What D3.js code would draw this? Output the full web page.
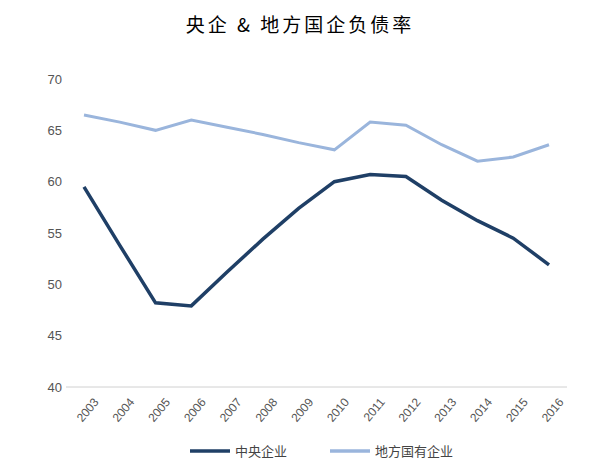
<!DOCTYPE html><html><head><meta charset="utf-8"><script src="https://d3js.org/d3.v7.min.js"></script>
<style>body{margin:0;background:#fff}</style></head><body><svg id="c" width="600" height="473"></svg><script>
const years=["2003","2004","2005","2006","2007","2008","2009","2010","2011","2012","2013","2014","2015","2016"];
const central=[59.5,53.8,48.2,47.9,51.2,54.4,57.4,60.0,60.7,60.5,58.2,56.2,54.5,51.9];
const local=[66.5,65.8,65.0,66.0,65.3,64.6,63.8,63.1,65.8,65.5,63.6,62.0,62.4,63.6];
const yTicks=[40,45,50,55,60,65,70];
const names=["中央企业","地方国有企业"];
const colors=["#1f3f66","#9ab5dc"];
const svg=d3.select("#c");
const x=d3.scalePoint().domain(years).range([84,549]);
const y=d3.scaleLinear().domain([40,70]).range([387,79]);
svg.append("text").attr("x",300).attr("y",32).attr("text-anchor","middle").attr("font-family","Noto Sans CJK SC").attr("font-size",19).attr("letter-spacing","3").text("央企 & 地方国企负债率");
const ya=svg.append("g").attr("transform","translate(66,0)").call(d3.axisLeft(y).tickValues(yTicks).tickSize(0).tickPadding(4));
ya.select(".domain").remove();
ya.selectAll("text").attr("font-family","Liberation Sans").attr("font-size",13).attr("fill","#555");
svg.append("line").attr("x1",66).attr("x2",567).attr("y1",387).attr("y2",387).attr("stroke","#d0d0d0");
const xa=svg.append("g").attr("transform","translate(0,387)").call(d3.axisBottom(x).tickSize(0));
xa.select(".domain").remove();
xa.selectAll("text").attr("font-family","Liberation Sans").attr("font-size",12).attr("fill","#555").attr("text-anchor","end").attr("transform","translate(6,8) rotate(-50)");
const line=d3.line().x((d,i)=>x(years[i])).y(d=>y(d));
[central,local].forEach((s,k)=>svg.append("path").attr("d",line(s)).attr("fill","none").attr("stroke",colors[k]).attr("stroke-width",k?3:3.5));
const lg=[[190,names[0]],[330,names[1]]];
lg.forEach(([lx,t],k)=>{svg.append("line").attr("x1",lx).attr("x2",lx+40).attr("y1",451).attr("y2",451).attr("stroke",colors[k]).attr("stroke-width",3.5);
svg.append("text").attr("x",lx+45).attr("y",456).attr("font-family","Noto Sans CJK SC").attr("font-size",13).attr("fill","#444").text(t);});
</script></body></html>
